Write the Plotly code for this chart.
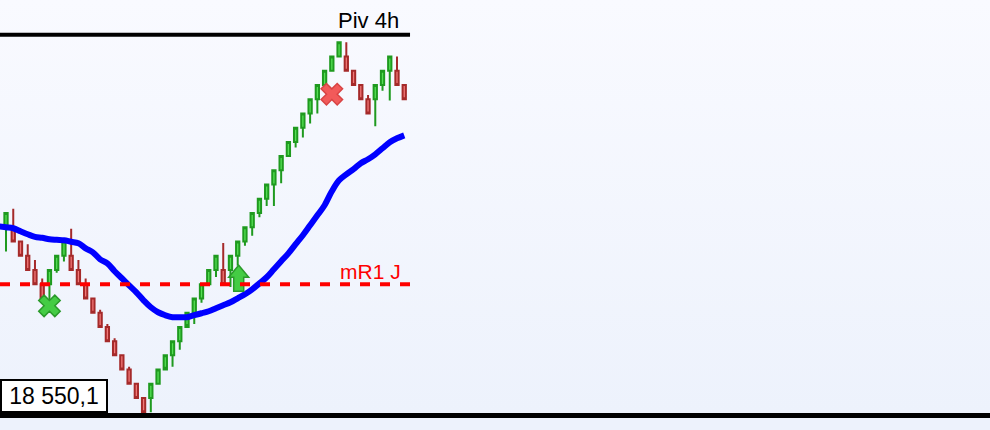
import base64
import plotly.graph_objects as go

# renko bricks (box size 10), left to right
bar_open = [18680, 18680, 18670, 18660, 18650, 18640, 18640, 18650, 18660, 18660,
            18650, 18640, 18630, 18620, 18610, 18600, 18590, 18580, 18570, 18560,
            18560, 18570, 18580, 18590, 18600, 18610, 18620, 18630, 18640, 18650,
            18650, 18650, 18660, 18670, 18680, 18690, 18700, 18710, 18720, 18730,
            18740, 18750, 18760, 18770, 18780, 18790, 18800, 18800, 18790, 18780,
            18770, 18770, 18780, 18790, 18790, 18780]
bar_close = [18690, 18670, 18660, 18650, 18640, 18630, 18650, 18660, 18670, 18650,
             18640, 18630, 18620, 18610, 18600, 18590, 18580, 18570, 18560, 18550,
             18570, 18580, 18590, 18600, 18610, 18620, 18630, 18640, 18650, 18660,
             18640, 18660, 18670, 18680, 18690, 18700, 18710, 18720, 18730, 18740,
             18750, 18760, 18770, 18780, 18790, 18800, 18810, 18790, 18780, 18770,
             18760, 18780, 18790, 18800, 18780, 18770]
bar_high = [18690, 18693, 18670, 18668, 18657, 18644, 18650, 18660, 18670, 18679,
            18657, 18644, 18630, 18622, 18612, 18602, 18590, 18582, 18570, 18560,
            18570, 18580, 18590, 18600, 18610, 18620, 18630, 18640, 18650, 18660,
            18669, 18660, 18670, 18680, 18690, 18700, 18710, 18720, 18730, 18740,
            18750, 18760, 18770, 18780, 18790, 18800, 18810, 18810, 18790, 18780,
            18773, 18780, 18790, 18800, 18800, 18780]
bar_low = [18663, 18670, 18660, 18650, 18640, 18630, 18623, 18648, 18656, 18650,
           18640, 18630, 18620, 18610, 18600, 18590, 18580, 18570, 18560, 18550,
           18550, 18570, 18582, 18582, 18594, 18612, 18612, 18627, 18640, 18645,
           18640, 18638, 18653, 18667, 18674, 18687, 18695, 18695, 18711, 18730,
           18736, 18743, 18753, 18760, 18780, 18790, 18800, 18790, 18780, 18770,
           18760, 18751, 18776, 18769, 18780, 18770]

# moving average, first value belongs to the brick just left of the view
ma_values = [18680.7, 18680.0, 18679.3, 18677.2, 18675.1, 18673.3, 18672.6, 18671.6,
             18671.2, 18670.9, 18669.8, 18668.8, 18665.2, 18662.4, 18657.5, 18654.7,
             18649.1, 18644.2, 18639.2, 18634.3, 18628.7, 18623.8, 18620.3, 18618.2,
             18616.8, 18616.8, 18616.8, 18618.2, 18619.6, 18621.0, 18623.1, 18625.2,
             18627.3, 18630.1, 18632.9, 18636.4, 18640.6, 18644.9, 18650.5, 18656.1,
             18661.7, 18668.1, 18674.4, 18681.4, 18688.4, 18695.5, 18705.3, 18713.0,
             18717.2, 18720.8, 18725.0, 18727.8, 18731.3, 18735.5, 18739.7, 18742.5,
             18744.6]

piv_4h = 18815.3
mr1_j = 18640.0
price_label = "18 550,1"

# signals: brick index and price
sell_cross = ([45], [18773.5])
buy_cross = ([6], [18624.8])
buy_arrow = (32, 18644.2)

bars_x = list(range(len(bar_open)))
ma_x = list(range(-1, len(ma_values) - 1))
levels_end = bars_x[-1] + 0.8

svg = ("<svg xmlns='http://www.w3.org/2000/svg' width='10' height='100' preserveAspectRatio='none'>"
       "<defs><linearGradient id='g' x1='0' y1='0' x2='0' y2='1'>"
       "<stop offset='0' stop-color='#f9faff'/><stop offset='1' stop-color='#edf2fc'/>"
       "</linearGradient></defs><rect width='10' height='100' fill='url(#g)'/></svg>")
bg_src = "data:image/svg+xml;base64," + base64.b64encode(svg.encode()).decode()

fig = go.Figure()

fig.add_trace(go.Candlestick(
    x=bars_x, open=bar_open, high=bar_high, low=bar_low, close=bar_close,
    increasing=dict(line=dict(color="#1f9a1f", width=2), fillcolor="#55e055"),
    decreasing=dict(line=dict(color="#a52a2a", width=2), fillcolor="#f27878"),
    whiskerwidth=0, showlegend=False, hoverinfo="skip"))

fig.add_trace(go.Scatter(
    x=ma_x, y=ma_values, mode="lines",
    line=dict(color="#0000ff", width=6, shape="spline", smoothing=1),
    showlegend=False, hoverinfo="skip"))

fig.add_trace(go.Scatter(
    x=buy_cross[0], y=buy_cross[1], mode="markers",
    marker=dict(symbol="x", size=19, color="#44cc44", line=dict(color="#2a9a2a", width=1.5)),
    showlegend=False, hoverinfo="skip"))
fig.add_trace(go.Scatter(
    x=sell_cross[0], y=sell_cross[1], mode="markers",
    marker=dict(symbol="x", size=19, color="#f25a5a", line=dict(color="#d84444", width=1.5)),
    showlegend=False, hoverinfo="skip"))

# up arrow drawn in pixels around the signal point
fig.add_shape(type="path", xref="x", yref="y", xsizemode="pixel", ysizemode="pixel",
              xanchor=buy_arrow[0], yanchor=buy_arrow[1],
              path="M 1 13 L 11 1 L 6 1 L 6 -13 L -4 -13 L -4 1 L -9 1 Z",
              fillcolor="#44cc44", line=dict(color="#2a9a2a", width=1.5))

fig.add_shape(type="line", xref="x", yref="y", x0=-1, x1=levels_end, y0=piv_4h, y1=piv_4h,
              line=dict(color="black", width=4))
fig.add_shape(type="line", xref="x", yref="y", x0=-0.83, x1=levels_end, y0=mr1_j, y1=mr1_j,
              line=dict(color="#ff0000", width=4, dash="10px,10px"))

fig.add_annotation(x=levels_end, y=piv_4h, xref="x", yref="y", text="Piv 4h",
                   xanchor="right", yanchor="bottom", xshift=-9, yshift=0, showarrow=False,
                   font=dict(family="Liberation Sans, Arial", size=22, color="black"))
fig.add_annotation(x=levels_end, y=mr1_j, xref="x", yref="y", text="mR1 J",
                   xanchor="right", yanchor="bottom", xshift=-7, yshift=-1, showarrow=False,
                   font=dict(family="Liberation Sans, Arial", size=21, color="#ff0000"))
fig.add_annotation(x=0, y=0, xref="paper", yref="paper", text=price_label,
                   xanchor="left", yanchor="bottom", showarrow=False,
                   bgcolor="white", bordercolor="black", borderwidth=2, borderpad=2,
                   width=100, align="center",
                   font=dict(family="Liberation Sans, Arial", size=23, color="black"))

fig.update_layout(
    width=990, height=430,
    margin=dict(l=0, r=0, t=0, b=17),
    paper_bgcolor="#edf2fc", plot_bgcolor="rgba(0,0,0,0)",
    boxgap=0.35,
    images=[dict(source=bg_src, xref="paper", yref="paper", x=0, y=1, sizex=1, sizey=1,
                 sizing="stretch", layer="below")],
    xaxis=dict(range=[-0.83, 135.9], showgrid=False, zeroline=False, showticklabels=False,
               ticks="", showline=True, linecolor="black", linewidth=5,
               rangeslider=dict(visible=False)),
    yaxis=dict(range=[18549.5, 18839.7], visible=False, showgrid=False, zeroline=False),
)

# page body has a default margin; drop it so the chart fills the window
fig.write_html("out.html", config={"displayModeBar": False},
               post_script="document.body.style.margin='0';document.body.style.overflow='hidden';")
